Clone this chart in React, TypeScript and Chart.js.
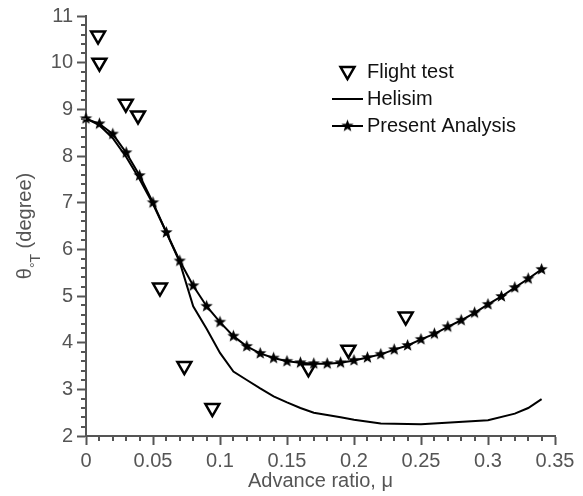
import React, { useEffect, useRef } from 'react';
import { Chart, registerables } from 'chart.js';
Chart.register(...registerables);

// ---- Data ----
const flightX = [0.009, 0.01, 0.0297, 0.0388, 0.0552, 0.0734, 0.0943, 0.166, 0.1958, 0.2386];
const flightY = [10.58, 10.0, 9.12, 8.87, 5.18, 3.5, 2.6, 3.45, 3.85, 4.56];

const helisimX = [0, 0.01, 0.02, 0.03, 0.04, 0.05, 0.06, 0.07, 0.08, 0.09, 0.1, 0.11, 0.12, 0.13, 0.14, 0.15, 0.16, 0.17, 0.18, 0.19, 0.2, 0.22, 0.25, 0.3, 0.32, 0.33, 0.34];
const helisimY = [8.8, 8.66, 8.38, 7.98, 7.5, 6.97, 6.36, 5.72, 4.78, 4.3, 3.78, 3.38, 3.2, 3.02, 2.85, 2.72, 2.6, 2.5, 2.45, 2.4, 2.35, 2.27, 2.25, 2.34, 2.48, 2.6, 2.79];

const presentX = [0, 0.01, 0.02, 0.03, 0.04, 0.05, 0.06, 0.07, 0.08, 0.09, 0.1, 0.11, 0.12, 0.13, 0.14, 0.15, 0.16, 0.17, 0.18, 0.19, 0.2, 0.21, 0.22, 0.23, 0.24, 0.25, 0.26, 0.27, 0.28, 0.29, 0.3, 0.31, 0.32, 0.33, 0.34];
const presentY = [8.8, 8.69, 8.47, 8.07, 7.58, 7.0, 6.36, 5.75, 5.22, 4.78, 4.44, 4.14, 3.92, 3.77, 3.67, 3.6, 3.57, 3.55, 3.55, 3.57, 3.62, 3.68, 3.75, 3.85, 3.94, 4.07, 4.19, 4.34, 4.48, 4.64, 4.82, 4.99, 5.18, 5.37, 5.57];

const xTickValues = [0, 0.05, 0.1, 0.15, 0.2, 0.25, 0.3, 0.35];
const yTickValues = [2, 3, 4, 5, 6, 7, 8, 9, 10, 11];
const xMinorStep = 0.01;
const yMinorStep = 0.2;

const seriesNames = ['Flight test', 'Helisim', 'Present Analysis'];
const xTitle = 'Advance ratio, μ';
const yTitleMain = 'θ';
const yTitleSub = '°T';
const yTitleTail = ' (degree)';

const AXIS = '#555555';
const FONT = '"Liberation Sans", Arial, Helvetica, sans-serif';

function makeStar(R: number) {
  const size = Math.ceil(R * 2 + 2);
  const c = document.createElement('canvas');
  c.width = size;
  c.height = size;
  const g = c.getContext('2d')!;
  g.translate(size / 2, size / 2);
  g.beginPath();
  for (let i = 0; i < 10; i++) {
    const r = i % 2 === 0 ? R : R * 0.42;
    const a = -Math.PI / 2 + (i * Math.PI) / 5;
    g.lineTo(r * Math.cos(a), r * Math.sin(a));
  }
  g.closePath();
  g.fillStyle = '#000';
  g.fill();
  return c;
}

function drawDownTriangle(ctx: CanvasRenderingContext2D, cx: number, cy: number, r: number) {
  const s = Math.sin(Math.PI / 3) * r;
  ctx.beginPath();
  ctx.moveTo(cx, cy + r);
  ctx.lineTo(cx - s, cy - r / 2);
  ctx.lineTo(cx + s, cy - r / 2);
  ctx.closePath();
  ctx.fillStyle = '#fff';
  ctx.fill();
  ctx.lineWidth = 2.5;
  ctx.strokeStyle = '#000';
  ctx.stroke();
}

export default function App() {
  const ref = useRef<HTMLCanvasElement>(null);

  useEffect(() => {
    if (!ref.current) return;
    const star = makeStar(6.5);

    const decor = {
      id: 'decor',
      afterDraw(chart: any) {
        const ctx: CanvasRenderingContext2D = chart.ctx;
        const xs = chart.scales.x;
        const ys = chart.scales.y;
        const { left, right, top, bottom } = chart.chartArea;
        ctx.save();
        // minor ticks
        ctx.strokeStyle = AXIS;
        ctx.lineWidth = 2;
        const nx = Math.round(0.35 / xMinorStep);
        for (let i = 0; i <= nx; i++) {
          if (i % 5 === 0) continue;
          const px = Math.round(xs.getPixelForValue(i * xMinorStep));
          ctx.beginPath();
          ctx.moveTo(px, bottom);
          ctx.lineTo(px, bottom + 5);
          ctx.stroke();
        }
        const ny = Math.round((11 - 2) / yMinorStep);
        for (let i = 0; i <= ny; i++) {
          if (i % 5 === 0) continue;
          const py = Math.round(ys.getPixelForValue(2 + i * yMinorStep));
          ctx.beginPath();
          ctx.moveTo(left, py);
          ctx.lineTo(left - 5, py);
          ctx.stroke();
        }

        // x title
        ctx.fillStyle = AXIS;
        ctx.font = `20px ${FONT}`;
        ctx.textAlign = 'center';
        ctx.textBaseline = 'alphabetic';
        ctx.fillText(xTitle, (left + right) / 2, 487);

        // y title (rotated, with subscript)
        ctx.save();
        ctx.translate(31, (top + bottom) / 2);
        ctx.rotate(-Math.PI / 2);
        ctx.textAlign = 'left';
        const big = `20px ${FONT}`;
        const small = `14px ${FONT}`;
        ctx.font = big;
        const wTheta = ctx.measureText(yTitleMain).width;
        const wTail = ctx.measureText(yTitleTail).width;
        ctx.font = small;
        const wSub = ctx.measureText(yTitleSub).width;
        let x = -(wTheta + wSub + wTail) / 2;
        ctx.font = big;
        ctx.fillText(yTitleMain, x, 0);
        x += wTheta;
        ctx.font = small;
        ctx.fillText(yTitleSub, x, 9);
        x += wSub;
        ctx.font = big;
        ctx.fillText(yTitleTail, x, 0);
        ctx.restore();

        // legend
        const rows = [72, 99, 126];
        const lx0 = 332, lx1 = 363, lmx = 347.5, ltx = 367;
        drawDownTriangle(ctx, lmx, rows[0] - 1, 8);
        ctx.strokeStyle = '#000';
        ctx.lineWidth = 2;
        ctx.beginPath();
        ctx.moveTo(lx0, rows[1]);
        ctx.lineTo(lx1, rows[1]);
        ctx.stroke();
        ctx.beginPath();
        ctx.moveTo(lx0, rows[2]);
        ctx.lineTo(lx1, rows[2]);
        ctx.stroke();
        ctx.drawImage(star, lmx - star.width / 2, rows[2] - star.height / 2);
        ctx.fillStyle = '#111';
        ctx.font = `20px ${FONT}`;
        ctx.textAlign = 'left';
        ctx.textBaseline = 'middle';
        seriesNames.forEach((n, i) => ctx.fillText(n, ltx, rows[i]));
        ctx.restore();
      },
    };

    const chart = new Chart(ref.current, {
      type: 'scatter',
      data: {
        datasets: [
          {
            label: seriesNames[2],
            data: presentX.map((x, i) => ({ x, y: presentY[i] })),
            showLine: true,
            borderColor: '#000',
            borderWidth: 2,
            pointStyle: star as any,
            pointRadius: 6,
            backgroundColor: '#000',
            clip: false as any,
          },
          {
            label: seriesNames[1],
            data: helisimX.map((x, i) => ({ x, y: helisimY[i] })),
            showLine: true,
            borderColor: '#000',
            borderWidth: 2,
            pointRadius: 0,
            clip: false as any,
          },
          {
            label: seriesNames[0],
            data: flightX.map((x, i) => ({ x, y: flightY[i] })),
            showLine: false,
            pointStyle: 'triangle',
            rotation: 180,
            pointRadius: 8,
            borderWidth: 2.5,
            borderColor: '#000',
            backgroundColor: '#fff',
            clip: false as any,
          },
        ],
      },
      options: {
        animation: false,
        responsive: false,
        devicePixelRatio: 1,
        layout: { padding: { top: 15, right: 28, left: 0, bottom: 0 } },
        plugins: { legend: { display: false }, tooltip: { enabled: false } },
        scales: {
          x: {
            type: 'linear',
            min: 0,
            max: 0.35,
            afterFit: (s: any) => { s.height = 60; },
            afterBuildTicks: (s: any) => { s.ticks = xTickValues.map((v) => ({ value: v })); },
            grid: { display: true, drawOnChartArea: false, drawTicks: true, tickLength: 9, tickColor: AXIS, tickWidth: 2 },
            border: { display: true, color: AXIS, width: 2 },
            ticks: {
              autoSkip: false,
              maxRotation: 0,
              padding: 4,
              color: AXIS,
              font: { family: FONT, size: 20 },
              callback: (v: any) => String(v),
            },
          },
          y: {
            type: 'linear',
            min: 2,
            max: 11,
            afterFit: (s: any) => { s.width = 86; },
            afterBuildTicks: (s: any) => { s.ticks = yTickValues.map((v) => ({ value: v })); },
            grid: { display: true, drawOnChartArea: false, drawTicks: true, tickLength: 9, tickColor: AXIS, tickWidth: 2 },
            border: { display: true, color: AXIS, width: 2 },
            ticks: {
              autoSkip: false,
              padding: 4,
              color: AXIS,
              font: { family: FONT, size: 20 },
              callback: (v: any) => String(v),
            },
          },
        },
      },
      plugins: [decor],
    });
    return () => chart.destroy();
  }, []);

  return (
    <div style={{ position: 'absolute', left: 0, top: 0, width: 583, height: 496, background: '#fff' }}>
      <canvas ref={ref} width={583} height={496} style={{ display: 'block' }} />
    </div>
  );
}
